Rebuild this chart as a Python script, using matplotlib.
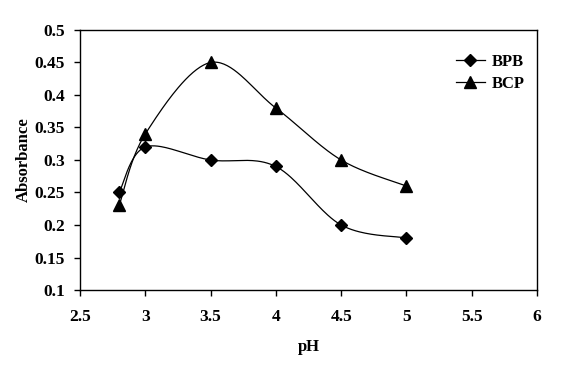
import numpy as np
import matplotlib
matplotlib.use("Agg")
import matplotlib.pyplot as plt
from matplotlib.lines import Line2D

ph = [2.8, 3.0, 3.5, 4.0, 4.5, 5.0]
bpb = [0.25, 0.32, 0.30, 0.29, 0.20, 0.18]
bcp = [0.23, 0.34, 0.45, 0.38, 0.30, 0.26]
x_ticks = [2.5, 3, 3.5, 4, 4.5, 5, 5.5, 6]
y_ticks = [0.1, 0.15, 0.2, 0.25, 0.3, 0.35, 0.4, 0.45, 0.5]

plt.rcParams['font.family'] = ['Liberation Serif', 'DejaVu Serif']
plt.rcParams['font.weight'] = 'bold'

fig = plt.figure(figsize=(5.61, 3.68), dpi=100)
ax = fig.add_axes([80/561, 1-290/368, 457/561, 260/368])
xlim = (2.5, 6.0)
ylim = (0.1, 0.5)
ax.set_xlim(*xlim)
ax.set_ylim(*ylim)

def smooth(xs, ys, n=40):
    # Catmull-Rom style smoothing in pixel-like space (Excel smoothed line)
    sx = 457 / (xlim[1] - xlim[0])
    sy = 260 / (ylim[1] - ylim[0])
    P = np.column_stack([np.array(xs) * sx, np.array(ys) * sy])
    out = []
    m = len(P)
    for i in range(m - 1):
        p0 = P[i - 1] if i > 0 else P[i]
        p1 = P[i]
        p2 = P[i + 1]
        p3 = P[i + 2] if i + 2 < m else P[i + 1]
        c1 = p1 + (p2 - p0) / 6
        c2 = p2 - (p3 - p1) / 6
        t = np.linspace(0, 1, n)[:, None]
        b = ((1 - t) ** 3) * p1 + 3 * ((1 - t) ** 2) * t * c1 + 3 * (1 - t) * t ** 2 * c2 + t ** 3 * p2
        out.append(b if i == 0 else b[1:])
    B = np.vstack(out)
    return B[:, 0] / sx, B[:, 1] / sy

for ys, mk, ms in [(bpb, 'D', 6.5), (bcp, '^', 8.5)]:
    sxs, sys_ = smooth(ph, ys)
    ax.plot(sxs, sys_, color='black', lw=0.9)
    ax.plot(ph, ys, ls='none', marker=mk, ms=ms, color='black')

ax.set_xticks(x_ticks)
ax.set_xticklabels([f"{v:g}" for v in x_ticks])
ax.set_yticks(y_ticks)
ax.set_yticklabels([f"{v:g}" for v in y_ticks])
ax.tick_params(direction='out', length=4, width=1, labelsize=12.5, pad=7)
ax.tick_params(axis='x', pad=10)
for lab in ax.get_xticklabels() + ax.get_yticklabels():
    lab.set_fontweight('bold')
for s in ax.spines.values():
    s.set_linewidth(1)

ax.set_xlabel('pH', fontsize=12, fontweight='bold', labelpad=10)
ax.set_ylabel('Absorbance', fontsize=12, fontweight='bold', labelpad=2)

handles = [Line2D([], [], color='black', lw=0.9, marker='D', ms=6.5, label='BPB'),
           Line2D([], [], color='black', lw=0.9, marker='^', ms=8.5, label='BCP')]
leg = ax.legend(handles=handles, loc='upper right', frameon=False,
                bbox_to_anchor=(1.005, 0.965), handlelength=1.7, handletextpad=0.4,
                labelspacing=0.35, prop={'size': 12, 'weight': 'bold'})

fig.savefig('out.png', dpi=100)
